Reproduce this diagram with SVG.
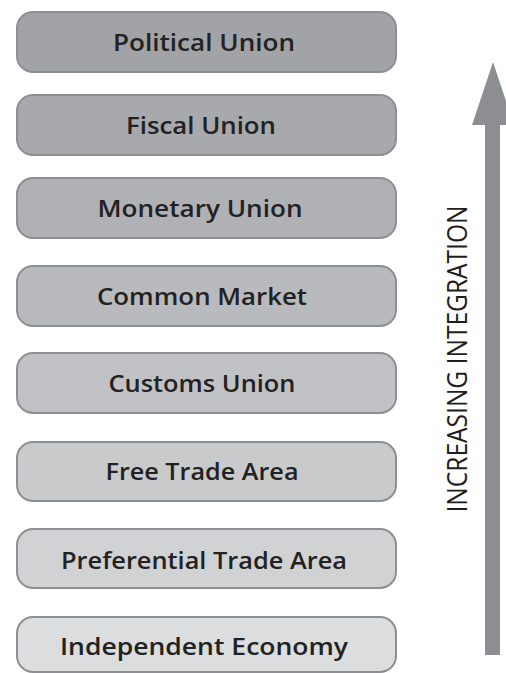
<svg xmlns="http://www.w3.org/2000/svg" width="506" height="673" viewBox="0 0 506 673">
  <style>
    .box { stroke: #8e8f92; stroke-width: 2; }
    .lbl { font-family: "Open Sans", "Liberation Sans", sans-serif; font-weight: 600; font-size: 24px; fill: #222222; text-anchor: middle; }
    .axis { font-family: "Open Sans", "Liberation Sans", sans-serif; font-weight: 500; font-size: 28px; fill: #1e1e1e; text-anchor: middle; }
  </style>
  <rect width="506" height="673" fill="#ffffff"/>

  <g id="political-union">
    <rect class="box" x="17" y="12" width="379" height="60" rx="16" fill="#a2a3a7"/>
    <text class="lbl" x="204" y="51" textLength="182" lengthAdjust="spacingAndGlyphs">Political Union</text>
  </g>
  <g id="fiscal-union">
    <rect class="box" x="17" y="95" width="379" height="60" rx="16" fill="#a8a9ad"/>
    <text class="lbl" x="201" y="134" textLength="150" lengthAdjust="spacingAndGlyphs">Fiscal Union</text>
  </g>
  <g id="monetary-union">
    <rect class="box" x="17" y="178" width="379" height="60" rx="16" fill="#b0b1b5"/>
    <text class="lbl" x="200" y="217" textLength="205" lengthAdjust="spacingAndGlyphs">Monetary Union</text>
  </g>
  <g id="common-market">
    <rect class="box" x="17" y="266" width="379" height="60" rx="16" fill="#b9babd"/>
    <text class="lbl" x="202" y="305" textLength="210" lengthAdjust="spacingAndGlyphs">Common Market</text>
  </g>
  <g id="customs-union">
    <rect class="box" x="17" y="353" width="379" height="60" rx="16" fill="#c1c2c5"/>
    <text class="lbl" x="202" y="392" textLength="187" lengthAdjust="spacingAndGlyphs">Customs Union</text>
  </g>
  <g id="free-trade-area">
    <rect class="box" x="17" y="442" width="379" height="59" rx="16" fill="#c9cacc"/>
    <text class="lbl" x="202" y="480" textLength="193" lengthAdjust="spacingAndGlyphs">Free Trade Area</text>
  </g>
  <g id="preferential-trade-area">
    <rect class="box" x="17" y="529" width="379" height="59" rx="16" fill="#d1d2d4"/>
    <text class="lbl" x="204" y="569" textLength="286" lengthAdjust="spacingAndGlyphs">Preferential Trade Area</text>
  </g>
  <g id="independent-economy">
    <rect class="box" x="17" y="617" width="379" height="55" rx="16" fill="#dcdddf"/>
    <text class="lbl" x="204" y="655" textLength="288" lengthAdjust="spacingAndGlyphs">Independent Economy</text>
  </g>

  <g id="connectors">
    <path d="M485 655 L485 125 L472 125 L493 62 L514 125 L500 125 L500 655 Z" fill="#8d8e91"/>
  </g>

  <g id="axis-label">
    <text class="axis" transform="translate(467 359) rotate(-90)" textLength="307" lengthAdjust="spacingAndGlyphs">INCREASING INTEGRATION</text>
  </g>
</svg>
